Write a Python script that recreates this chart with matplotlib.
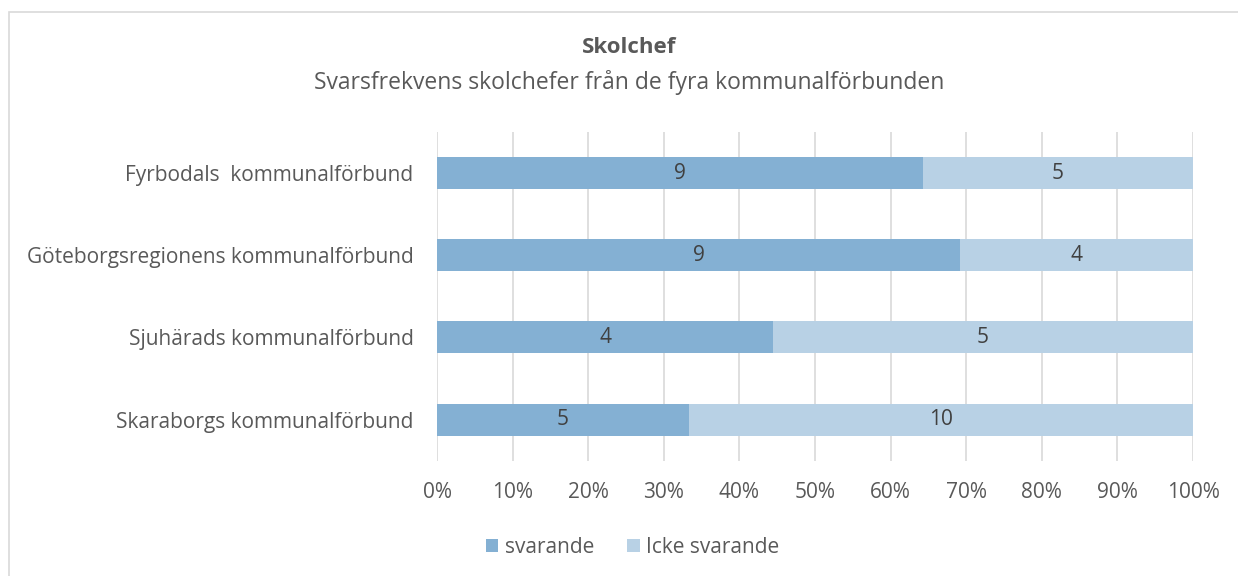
import matplotlib.pyplot as plt
from matplotlib.patches import Rectangle

categories = ["Fyrbodals  kommunalförbund", "Göteborgsregionens kommunalförbund",
              "Sjuhärads kommunalförbund", "Skaraborgs kommunalförbund"]
svarande = [9, 9, 4, 5]
icke_svarande = [5, 4, 5, 10]
xticks = [0, 10, 20, 30, 40, 50, 60, 70, 80, 90, 100]

plt.rcParams['font.family'] = ['Open Sans', 'DejaVu Sans']
txt = "#595959"
c1 = "#84B0D3"
c2 = "#B8D1E5"

fig = plt.figure(figsize=(12.38, 5.76), dpi=100)
ax = fig.add_axes([0.353, 0.2, 0.6107, 0.571])

totals = [a + b for a, b in zip(svarande, icke_svarande)]
p1 = [100 * a / t for a, t in zip(svarande, totals)]
p2 = [100 * b / t for b, t in zip(icke_svarande, totals)]
y = list(range(len(categories)))[::-1]

b1 = ax.barh(y, p1, height=0.39, color=c1, label="svarande", zorder=3)
b2 = ax.barh(y, p2, left=p1, height=0.39, color=c2, label="Icke svarande", zorder=3)
for bars, vals in ((b1, svarande), (b2, icke_svarande)):
    for r, v in zip(bars, vals):
        ax.text(r.get_x() + r.get_width() / 2, r.get_y() + r.get_height() / 2, str(v),
                ha="center", va="center", fontsize=15, color="#404040", zorder=4)

ax.set_xlim(0, 100)
ax.set_ylim(-0.5, 3.5)
ax.set_xticks(xticks)
ax.set_xticklabels([f"{t}%" for t in xticks])
ax.set_yticks(y)
ax.set_yticklabels(categories)
ax.tick_params(length=0, labelsize=15, colors=txt)
ax.tick_params(axis="x", pad=15)
ax.tick_params(axis="y", pad=17)
ax.grid(axis="x", color="#D9D9D9", linewidth=1.2, zorder=0)
for s in ax.spines.values():
    s.set_visible(False)

fig.text(0.508, 0.918, "Skolchef", ha="center", va="center", fontsize=16, fontweight="bold", color=txt)
fig.text(0.508, 0.857, "Svarsfrekvens skolchefer från de fyra kommunalförbunden",
         ha="center", va="center", fontsize=16.5, color=txt)

fig.legend(handles=[b1, b2], loc="center", bbox_to_anchor=(0.511, 0.05), ncol=2, frameon=False,
           fontsize=15, labelcolor=txt, handlelength=0.6, handleheight=0.6, handletextpad=0.3,
           columnspacing=1.6)

fig.patches.append(Rectangle((9 / 1238, -0.01), 1.1, 1 - 12 / 576 + 0.01, transform=fig.transFigure,
                             fill=False, edgecolor="#D9D9D9", linewidth=1.2))

fig.savefig("out.png", dpi=100)
